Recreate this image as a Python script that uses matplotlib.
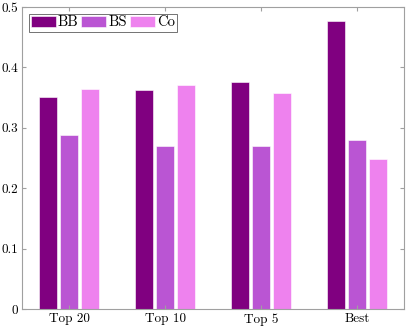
import numpy as np
import matplotlib
matplotlib.use("Agg")
import matplotlib.pyplot as plt

categories = ["Top 20", "Top 10", "Top 5", "Best"]
series_names = ["BB", "BS", "Co"]
bb = [0.351, 0.363, 0.376, 0.476]
bs = [0.288, 0.270, 0.270, 0.279]
co = [0.364, 0.371, 0.358, 0.248]
colors = ["#800080", "#ba55d3", "#ee82ee"]

plt.rcParams["font.family"] = ["cmr10", "DejaVu Serif"]
plt.rcParams["axes.formatter.use_mathtext"] = True
plt.rcParams["font.size"] = 9.5

fig = plt.figure(figsize=(4.07, 3.3), dpi=100)
ax = fig.add_axes([22 / 407, 21 / 330, 382 / 407, 302 / 330])

x = np.arange(len(categories))
offsets = [-0.222, 0.0, 0.222]
for vals, name, col, off in zip([bb, bs, co], series_names, colors, offsets):
    ax.bar(x + off, vals, width=0.19, color=col, label=name,
           edgecolor="white", linewidth=0.4)

ax.set_xlim(-0.49, 3.49)
ax.set_ylim(0, 0.5)
ax.set_xticks(x)
ax.set_xticklabels(categories)
ax.set_yticks([0, 0.1, 0.2, 0.3, 0.4, 0.5])
ax.set_yticklabels(["0", "0.1", "0.2", "0.3", "0.4", "0.5"])
ax.tick_params(direction="in", color="#a0a0a0", length=3, width=0.8,
               top=True, right=True, pad=3)
for s in ax.spines.values():
    s.set_color("#a0a0a0")
    s.set_linewidth(0.8)

leg = ax.legend(loc="upper left", ncol=3, frameon=True, fancybox=False,
                edgecolor="#333333", fontsize=10.5, handlelength=1.7,
                handleheight=0.8, handletextpad=0.15, columnspacing=0.2,
                borderpad=0.15, borderaxespad=0.45)
leg.get_frame().set_linewidth(0.6)

fig.savefig("out.png", dpi=100)
